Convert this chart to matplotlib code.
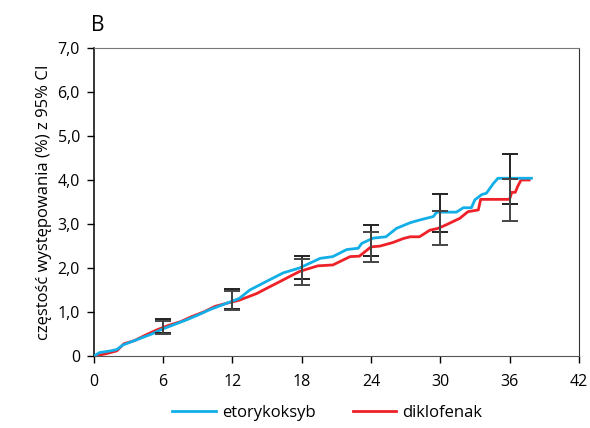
import numpy as np
import matplotlib
matplotlib.use("Agg")
import matplotlib.pyplot as plt

## dane (miesiace, czestosc %)
eto_t = [0, 0.5, 1.5, 2.0, 2.5, 3.0, 4.0, 5.0, 6.0, 7.0, 8.0, 9.0, 10.0, 11.0, 12.0, 12.6,
         13.5, 15.2, 16.4, 17.8, 18.7, 19.6, 20.7, 21.9, 22.9, 23.2, 24.2, 25.3, 26.2,
         27.4, 28.2, 29.4, 29.7, 31.4, 32.0, 32.7, 33.0, 33.6, 34.0, 34.6, 35.0, 37.9]
eto_v = [0, 0.08, 0.12, 0.15, 0.25, 0.30, 0.40, 0.50, 0.62, 0.72, 0.82, 0.93, 1.05, 1.15, 1.25, 1.31,
         1.50, 1.73, 1.89, 2.00, 2.11, 2.22, 2.26, 2.42, 2.45, 2.56, 2.68, 2.71, 2.90,
         3.03, 3.09, 3.17, 3.27, 3.27, 3.37, 3.37, 3.55, 3.67, 3.70, 3.92, 4.04, 4.04]

dik_t = [0, 1.0, 2.0, 2.6, 3.5, 4.5, 5.5, 6.5, 7.5, 8.5, 9.5, 10.5, 11.5, 12.6,
         14.1, 15.2, 16.1, 17.2, 17.8, 18.4, 19.4, 20.7, 22.2, 23.0, 24.0, 24.8, 25.9,
         26.8, 27.4, 28.2, 29.1, 29.8, 30.5, 31.7, 32.4, 33.3, 33.5, 36.0, 36.2, 36.5, 36.7, 37.0, 37.7]
dik_v = [0, 0.05, 0.12, 0.28, 0.35, 0.48, 0.60, 0.70, 0.78, 0.90, 1.00, 1.13, 1.20, 1.27,
         1.42, 1.57, 1.69, 1.84, 1.92, 1.97, 2.05, 2.07, 2.26, 2.27, 2.48, 2.50, 2.58,
         2.67, 2.71, 2.71, 2.86, 2.90, 2.98, 3.13, 3.28, 3.32, 3.56, 3.56, 3.72, 3.72, 3.85, 4.00, 4.00]

## przedzialy ufnosci 95%
ci_t = [6, 12, 18, 24, 30, 36]
eto_lo = [0.52, 1.07, 1.75, 2.27, 2.83, 3.46]
eto_hi = [0.84, 1.52, 2.27, 2.97, 3.68, 4.60]
dik_lo = [0.50, 1.05, 1.61, 2.13, 2.52, 3.06]
dik_hi = [0.80, 1.48, 2.20, 2.82, 3.29, 4.03]

plt.rcParams['font.family'] = ['Open Sans', 'DejaVu Sans']

fig = plt.figure(figsize=(5.9, 4.28), dpi=100)
ax = fig.add_axes([0.159, 0.168, 0.822, 0.72])

ax.plot(eto_t, eto_v, color='#12aee8', lw=2.0, label='etorykoksyb', zorder=3)
ax.plot(dik_t, dik_v, color='#ee2129', lw=2.0, label='diklofenak', zorder=2)

for lo, hi, c in [(eto_lo, eto_hi, '#222222'), (dik_lo, dik_hi, '#444444')]:
    lo = np.array(lo); hi = np.array(hi)
    mid = (lo + hi) / 2
    ax.errorbar(ci_t, mid, yerr=[mid - lo, hi - mid], fmt='none', ecolor=c,
                elinewidth=1.4, capsize=6, capthick=1.4, zorder=4)

ax.set_xlim(0, 42)
ax.set_ylim(0, 7)
ax.set_xticks(range(0, 43, 6))
yt = np.arange(0, 7.1, 1)
ax.set_yticks(yt)
ax.set_yticklabels(["0"] + [f"{v:.1f}".replace('.', ',') for v in yt[1:]])
ax.tick_params(labelsize=11.5, length=5, width=1, direction='out', pad=5)
ax.tick_params(axis='x', pad=8)

ax.spines['top'].set_color('#777777')
ax.spines['right'].set_color('#333333')
ax.spines['left'].set_linewidth(1.1)
ax.spines['bottom'].set_color('#555555')

ax.set_ylabel("częstość występowania (%) z 95% CI", fontsize=12)
fig.text(0.155, 0.94, "B", fontsize=15, ha='left', va='center')

fig.legend(loc='center', bbox_to_anchor=(0.555, 0.035), ncol=2, frameon=False,
           fontsize=12, handlelength=2.6, columnspacing=2.2, handletextpad=0.4)

plt.savefig("out.png", dpi=100)
